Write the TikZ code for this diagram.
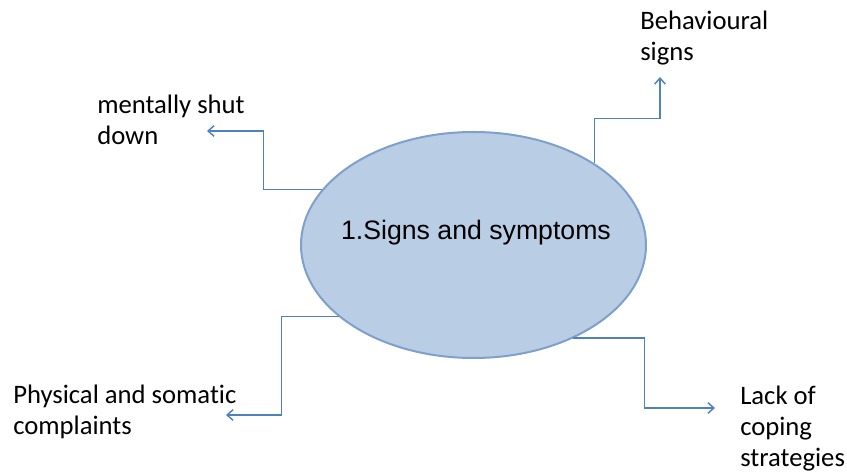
\documentclass[tikz,border=0pt]{standalone}
\usepackage{fontspec}
\setmainfont{Carlito}[Ligatures = {NoCommon, NoContextual}]
\newfontfamily\arialfont{Liberation Sans}
\usetikzlibrary{shapes.geometric, arrows.meta}

\definecolor{linkblue}{HTML}{4F81BD}
\definecolor{corefill}{HTML}{B9CDE5}
\definecolor{coreline}{HTML}{7EA0CD}

\begin{document}
\begin{tikzpicture}[x = 0.75pt, y = -0.75pt,
	link/.style = {draw = linkblue, line width = 1.1pt, -{Straight Barb[length = 4.5pt, width = 8pt]}},
	leaf/.style = {anchor = base west, inner sep = 0pt, align = left, font = \fontsize{20}{23.5}\selectfont}]

	% Frame
	
	\useasboundingbox (0, 0) rectangle (847, 473);

	% Core
	
	\node [ellipse, fill = corefill, draw = coreline, line width = 1.5pt,
		minimum width = 258.75pt, minimum height = 169.5pt, inner sep = 0pt] (core) at (473.5, 245) {};
	\node [font = \arialfont\fontsize{20}{24}\selectfont, anchor = base, inner sep = 0pt] (coretext) at (476, 240) {1.Signs and symptoms};

	% Leaves (anchored at the last line)
	
	\node [leaf] (mental) at (97, 145) {mentally shut\\down};
	\node [leaf] (behav) at (640, 61) {Behavioural\\signs};
	\node [leaf] (phys) at (13, 435) {Physical and somatic\\complaints};
	\node [leaf] (lack) at (740, 467) {Lack of\\coping\\strategies};

	% Arrow ends
	
	\coordinate (mentaltip) at (207, 131);
	\coordinate (behavtip) at (660, 77);
	\coordinate (phystip) at (226, 415);
	\coordinate (lacktip) at (715, 408);

	% Links
	
	\draw [link] (core.160) -- ++(-58, 0) |- (mentaltip);
	\draw [link] (core.34) -- ++(0, -45) -| (behavtip);
	\draw [link] (core.208) -- ++(-57, 0) |- (phystip);
	\draw [link] (core.317) -- ++(71, 0) |- (lacktip);

\end{tikzpicture}
\end{document}
